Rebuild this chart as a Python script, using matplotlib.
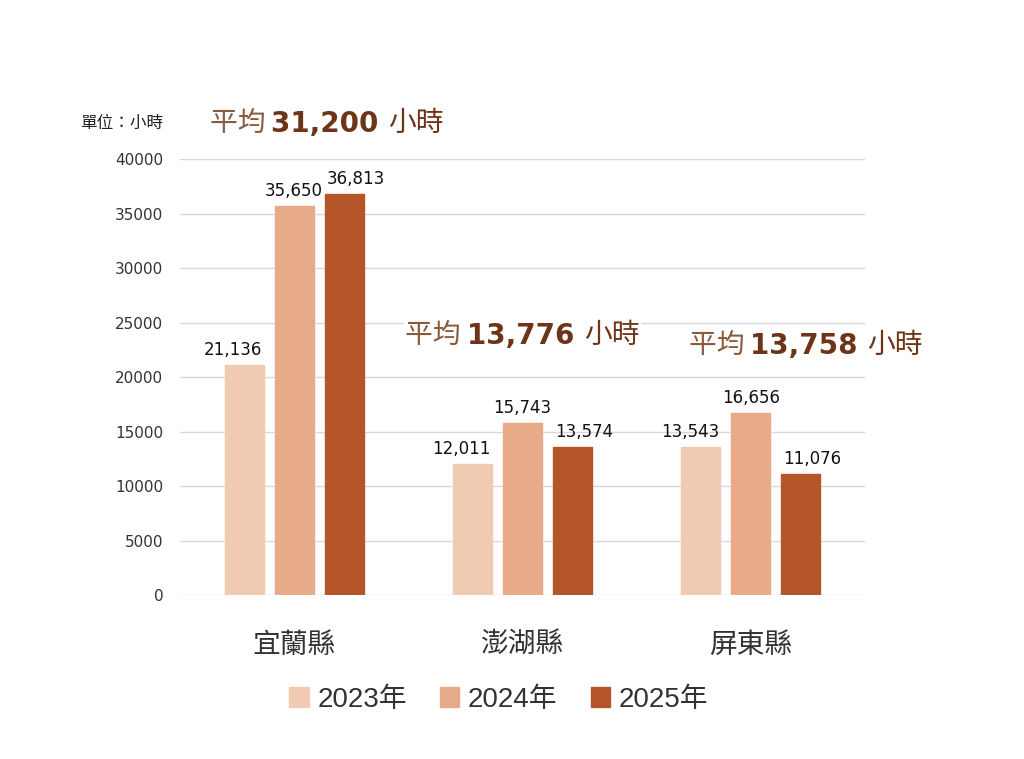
import matplotlib
matplotlib.use("Agg")
import matplotlib.pyplot as plt
import numpy as np

plt.rcParams['font.family'] = ['DejaVu Sans', 'Noto Sans CJK TC']

counties = ["宜蘭縣", "澎湖縣", "屏東縣"]
years = ["2023年", "2024年", "2025年"]
hours_2023 = [21136, 12011, 13543]
hours_2024 = [35650, 15743, 16656]
hours_2025 = [36813, 13574, 11076]
averages = ["31,200", "13,776", "13,758"]
avg_pos = [(-0.37, 43300), (0.487, 23850), (1.728, 22940)]

colors = ["#F0CAB2", "#E8AB89", "#B4562A"]
cjk = ['Noto Sans CJK TC', 'DejaVu Sans']

fig = plt.figure(figsize=(10.24, 7.59), dpi=100)
ax = fig.add_axes([0.1758, 0.216, 0.6689, 0.5745])

x = np.arange(len(counties))
width = 0.171
step = 0.219
label_shift = [-0.048, 0.0, 0.05]
series = [hours_2023, hours_2024, hours_2025]
for i, vals in enumerate(series):
    bars = ax.bar(x + (i - 1) * step, vals, width, color=colors[i], label=years[i],
                  edgecolor=colors[i], zorder=3)
    for b, v in zip(bars, vals):
        ax.text(b.get_x() + b.get_width() / 2 + label_shift[i], v + 550, f"{v:,}",
                ha='center', va='bottom', fontsize=12, color='#111111', zorder=4)

ax.set_xlim(-0.5, 2.5)
ax.set_ylim(0, 40000)
ax.set_yticks(np.arange(0, 40001, 5000))
ax.tick_params(axis='y', length=0, labelsize=11, labelcolor='#333333', pad=12)
ax.set_xticks(x)
ax.set_xticklabels(counties, family=cjk, fontsize=20, fontweight='medium', color='#333333')
ax.tick_params(axis='x', length=0, pad=25)
ax.grid(axis='y', color='#d9d9d9', linewidth=1, zorder=0)
for s in ax.spines.values():
    s.set_visible(False)

ax.text(-0.754, 43300, "單位：小時", family=cjk, fontsize=12, color='#222222', va='center', ha='center')

for (px, py), avg in zip(avg_pos, averages):
    t1 = ax.text(px, py, "平均 ", family=cjk, fontsize=20, fontweight='light', color='#8a5a3c',
                 va='center', ha='left', zorder=5,
                 bbox=dict(facecolor='white', edgecolor='none', pad=1))
    t2 = ax.annotate(avg + " ", xy=(1, 0), xycoords=t1, va='bottom', ha='left',
                     fontsize=20, fontweight='bold', color='#6e3418', zorder=5,
                     bbox=dict(facecolor='white', edgecolor='none', pad=1))
    ax.annotate("小時", xy=(1, 0), xycoords=t2, va='bottom', ha='left', family=cjk,
                fontsize=20, color='#6e3418', zorder=5,
                bbox=dict(facecolor='white', edgecolor='none', pad=1))

leg = fig.legend(loc='center', bbox_to_anchor=(0.487, 0.078), ncol=3, frameon=False,
                 prop={'family': ['Liberation Sans', 'Noto Sans CJK TC'], 'size': 20},
                 handlelength=0.7, handleheight=0.7, handletextpad=0.3, columnspacing=1.2)
for t in leg.get_texts():
    t.set_color('#333333')

fig.savefig("out.png", dpi=100)
